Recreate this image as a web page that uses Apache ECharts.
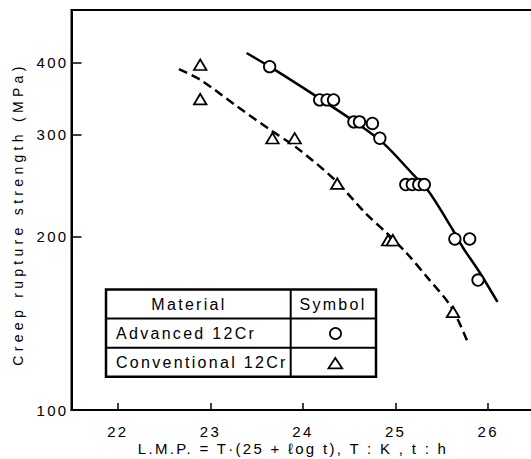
<!DOCTYPE html>
<html><head><meta charset="utf-8">
<script src="https://cdn.jsdelivr.net/npm/echarts@6.0.0/dist/echarts.min.js"></script>
<style>
html,body{margin:0;padding:0;background:#fff}
#chart{width:531px;height:459px}
#chart text{letter-spacing:2.3px}
#chart text[style*="14px"]{letter-spacing:4.3px}
</style></head><body><div id="chart"></div>
<script>
// Axis ranges and ticks
const xMin = 21.5, xMax = 26.5;
const yMin = 100, yMax = 494;
const xTicks = [22, 23, 24, 25, 26];
const yTicks = [100, 200, 300, 400];

// Advanced 12Cr (circles)
const advX = [23.64, 24.18, 24.26, 24.33, 24.55, 24.61, 24.75, 24.83, 25.11, 25.18, 25.25, 25.31, 25.64, 25.80, 25.89];
const advY = [394, 345, 345, 345, 316, 316, 314, 296, 246, 246, 246, 246, 198, 198, 168];
// Conventional 12Cr (triangles)
const convX = [22.89, 22.89, 23.67, 23.91, 24.37, 24.92, 24.97, 25.62];
const convY = [397, 346, 296, 296, 247, 197, 197, 148];

// Fitted curves
const advCurveX = [23.39, 23.64, 24.12, 24.56, 24.87, 25.19, 25.36, 25.62, 25.73, 25.91, 26.10];
const advCurveY = [416, 394, 352, 316, 290, 256, 239, 205, 191, 173, 154];
const convCurveX = [22.66, 22.89, 23.29, 23.66, 23.92, 24.34, 24.68, 24.90, 25.12, 25.34, 25.60, 25.78];
const convCurveY = [390, 374, 336, 305, 286, 251, 219, 203, 187, 170, 151, 131];

const legendRows = ['Advanced 12Cr', 'Conventional 12Cr'];
const legendHead = ['Material', 'Symbol'];

const LOG = v => Math.log10(v);
const pairs = (xs, ys) => xs.map((x, i) => [x, LOG(ys[i])]);
const FONT = 'Liberation Sans';

const chart = echarts.init(document.getElementById('chart'), null, {renderer: 'svg'});

const yTickVals = yTicks.map(LOG);

const option = {
  animation: false,
  backgroundColor: '#fff',
  grid: {left: 71.5, right: -3.5, top: 10, bottom: 49, show: true, borderColor: '#000', borderWidth: 2,
         containLabel: false, outerBoundsMode: 'none'},
  xAxis: {
    type: 'value', min: xMin, max: xMax,
    name: 'L.M.P. = T\u00b7(25 + \u2113og t), T : K , t : h',
    nameLocation: 'middle', nameGap: 31, nameMoveOverlap: false,
    nameTextStyle: {fontFamily: FONT, fontSize: 15, lineHeight: 14, color: '#000', padding: [0, 20, 0, 0]},
    axisLine: {show: true, onZero: false, lineStyle: {color: '#000', width: 2}},
    axisTick: {show: true, inside: true, length: 7, customValues: xTicks, lineStyle: {color: '#000', width: 1.5}},
    axisLabel: {customValues: xTicks, margin: 14, fontFamily: FONT, fontSize: 15, lineHeight: 14, color: '#000'},
    splitLine: {show: false}
  },
  yAxis: {
    type: 'value', min: LOG(yMin), max: LOG(yMax),
    name: 'Creep rupture strength (MPa)',
    nameLocation: 'middle', nameGap: 47, nameMoveOverlap: false,
    nameTextStyle: {fontFamily: FONT, fontSize: 14, color: '#000', padding: [0, 8, 0, 0]},
    axisLine: {show: true, onZero: false, lineStyle: {color: '#000', width: 2}},
    axisTick: {show: true, inside: true, length: 10, customValues: yTickVals, lineStyle: {color: '#000', width: 1.5}},
    axisLabel: {
      customValues: yTickVals, margin: 3, fontFamily: FONT, fontSize: 15, color: '#000',
      formatter: v => {
        let best = yTicks[0];
        yTicks.forEach(t => { if (Math.abs(LOG(t) - v) < Math.abs(LOG(best) - v)) best = t; });
        return String(best);
      }
    },
    splitLine: {show: false}
  },
  series: [
    {type: 'line', data: pairs(advCurveX, advCurveY), smooth: 0.3, showSymbol: false, silent: true, z: 2,
     lineStyle: {color: '#000', width: 2.5, type: 'solid'}},
    {type: 'line', data: pairs(convCurveX, convCurveY), smooth: 0.3, showSymbol: false, silent: true, z: 2,
     lineStyle: {color: '#000', width: 2.5, type: [9, 5]}},
    {type: 'scatter', data: pairs(advX, advY), symbol: 'circle', symbolSize: 11.5, silent: true, z: 3,
     itemStyle: {color: '#fff', opacity: 1, borderColor: '#000', borderWidth: 1.8}},
    {type: 'scatter', data: pairs(convX, convY), symbol: 'triangle', symbolSize: [12.5, 10.5], silent: true, z: 3,
     itemStyle: {color: '#fff', opacity: 1, borderColor: '#000', borderWidth: 1.8}}
  ],
  graphic: [
    {type: 'rect', shape: {x: 106, y: 289.5, width: 270, height: 87.2}, style: {fill: '#fff', stroke: '#000', lineWidth: 2.5}, z: 10},
    {type: 'line', shape: {x1: 106, y1: 318.5, x2: 376, y2: 318.5}, style: {stroke: '#000', lineWidth: 2}, z: 11},
    {type: 'line', shape: {x1: 106, y1: 347.8, x2: 376, y2: 347.8}, style: {stroke: '#000', lineWidth: 2}, z: 11},
    {type: 'line', shape: {x1: 290.7, y1: 289.5, x2: 290.7, y2: 376.7}, style: {stroke: '#000', lineWidth: 2}, z: 11},
    {type: 'text', z: 12, style: {text: legendHead[0], x: 189, y: 304, fill: '#000', fontFamily: FONT, fontSize: 16, align: 'center', verticalAlign: 'middle'}},
    {type: 'text', z: 12, style: {text: legendHead[1], x: 333, y: 304, fill: '#000', fontFamily: FONT, fontSize: 16, align: 'center', verticalAlign: 'middle'}},
    {type: 'text', z: 12, style: {text: legendRows[0], x: 116, y: 333.3, fill: '#000', fontFamily: FONT, fontSize: 16, align: 'left', verticalAlign: 'middle'}},
    {type: 'text', z: 12, style: {text: legendRows[1], x: 116, y: 362.5, fill: '#000', fontFamily: FONT, fontSize: 16, align: 'left', verticalAlign: 'middle'}},
    {type: 'circle', z: 12, shape: {cx: 335.5, cy: 333.5, r: 5.6}, style: {fill: '#fff', stroke: '#000', lineWidth: 1.7}},
    {type: 'polygon', z: 12, shape: {points: [[328.5, 368.3], [342.2, 368.3], [335.3, 358]]}, style: {fill: '#fff', stroke: '#000', lineWidth: 1.8}}
  ]
};
chart.setOption(option);
</script></body></html>
